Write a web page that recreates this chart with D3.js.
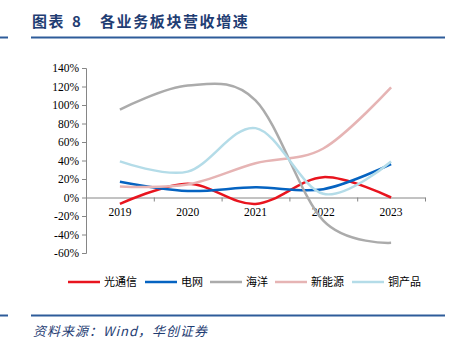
<!DOCTYPE html>
<html>
<head>
<meta charset="utf-8">
<script src="https://cdn.jsdelivr.net/npm/d3@7"></script>
<style>
  body { margin: 0; background: #fff; }
  svg { display: block; }
  .tick text { font-family: 'Liberation Serif', serif; font-size: 11.5px; fill: #000; }
  .legend text { font-family: 'Noto Sans CJK SC', sans-serif; font-size: 11px; fill: #000; }
</style>
</head>
<body>
<svg width="460" height="343"></svg>
<script>
const years = ['2019', '2020', '2021', '2022', '2023'];
const seriesNames = ['光通信', '电网', '海洋', '新能源', '铜产品'];
const seriesColors = ['#E8141E', '#0563C1', '#ABABAB', '#E6B4B4', '#B4DCE8'];
const guangtongxin = [-7, 15, -7, 22, 0];
const dianwang = [17, 7, 11, 9, 36];
const haiyang = [95, 121, 105, -25, -49];
const xinnengyuan = [12, 14, 37, 53, 119];
const tongchanpin = [39, 28, 75, 4, 39];
const yTicks = [-60, -40, -20, 0, 20, 40, 60, 80, 100, 120, 140];

const allSeries = [guangtongxin, dianwang, haiyang, xinnengyuan, tongchanpin];

const svg = d3.select('svg'),
    margin = {top: 68, right: 35, bottom: 90, left: 86},
    width = 425 - margin.left,
    height = 253 - margin.top;

// header
const title = svg.append('text')
    .attr('y', 27)
    .attr('font-family', 'Noto Sans CJK SC, sans-serif')
    .attr('font-weight', 'bold')
    .attr('font-size', 15)
    .attr('fill', '#1F3D73');
title.append('tspan').attr('x', 32).attr('letter-spacing', 1.5).text('图表');
title.append('tspan').attr('x', 72).text('8');
title.append('tspan').attr('x', 100).attr('letter-spacing', 1.6).text('各业务板块营收增速');

svg.append('line').attr('x1', 0).attr('x2', 8).attr('y1', 37.5).attr('y2', 37.5)
    .attr('stroke', '#2E5C9A').attr('stroke-width', 2);
svg.append('line').attr('x1', 31).attr('x2', 445).attr('y1', 37.5).attr('y2', 37.5)
    .attr('stroke', '#2E5C9A').attr('stroke-width', 2);
svg.append('line').attr('x1', 0).attr('x2', 8).attr('y1', 315.5).attr('y2', 315.5)
    .attr('stroke', '#2E5C9A').attr('stroke-width', 2);
svg.append('line').attr('x1', 31).attr('x2', 445).attr('y1', 315.5).attr('y2', 315.5)
    .attr('stroke', '#2E5C9A').attr('stroke-width', 2);

svg.append('text')
    .attr('x', 33).attr('y', 336)
    .attr('font-family', 'Noto Sans CJK SC, sans-serif')
    .attr('font-style', 'italic')
    .attr('font-size', 13)
    .attr('letter-spacing', 1)
    .attr('fill', '#1F3D73')
    .text('资料来源：Wind，华创证券');

const g = svg.append('g')
    .attr('transform', 'translate(' + margin.left + ',' + margin.top + ')');

const x = d3.scaleBand().domain(years).range([0, width]);
const y = d3.scaleLinear().domain([-60, 140]).range([height, 0]);

// y axis
const yAxis = g.append('g')
    .call(d3.axisLeft(y).tickValues(yTicks).tickSize(4).tickPadding(3)
      .tickFormat(function(d) { return d + '%'; }));
yAxis.selectAll('path, line').attr('stroke', '#868686');

// x axis at zero
const xAxis = g.append('g')
    .attr('transform', 'translate(0,' + y(0) + ')')
    .call(d3.axisBottom(x).tickSize(0).tickPadding(10));
xAxis.select('.domain').attr('stroke', '#868686');
xAxis.selectAll('.tick text').attr('dy', '0.71em');
g.append('g').selectAll('line')
    .data(d3.range(years.length + 1))
  .enter().append('line')
    .attr('x1', function(i) { return i * x.step() + 0.5; })
    .attr('x2', function(i) { return i * x.step() + 0.5; })
    .attr('y1', y(0)).attr('y2', y(0) + 4)
    .attr('stroke', '#868686');

const line = d3.line()
    .x(function(d, i) { return x(years[i]) + x.bandwidth() / 2; })
    .y(function(d) { return y(d); })
    .curve(d3.curveCardinal.tension(0));

g.selectAll('.series')
    .data(allSeries)
  .enter().append('path')
    .attr('class', 'series')
    .attr('d', line)
    .attr('fill', 'none')
    .attr('stroke', function(d, i) { return seriesColors[i]; })
    .attr('stroke-width', 2.5);

// legend
const legendX = [68, 145, 210, 275, 352];
const legend = svg.append('g').attr('class', 'legend');
const item = legend.selectAll('g')
    .data(seriesNames)
  .enter().append('g');
item.append('line')
    .attr('x1', function(d, i) { return legendX[i]; })
    .attr('x2', function(d, i) { return legendX[i] + 32; })
    .attr('y1', 282).attr('y2', 282)
    .attr('stroke', function(d, i) { return seriesColors[i]; })
    .attr('stroke-width', 2.5);
item.append('text')
    .attr('x', function(d, i) { return legendX[i] + 36; })
    .attr('y', 286)
    .text(function(d) { return d; });
</script>
</body>
</html>
